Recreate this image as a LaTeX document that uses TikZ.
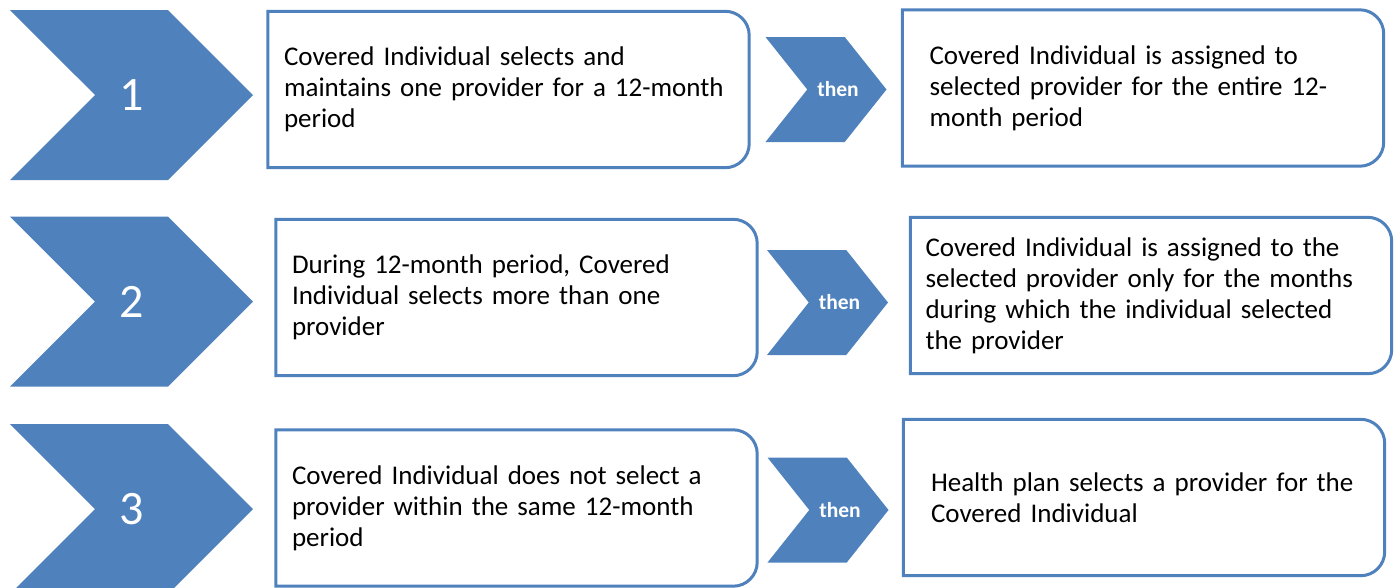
\documentclass[tikz,border=0pt]{standalone}
\usepackage{fontspec}
\setmainfont{Carlito}
\usetikzlibrary{shapes.symbols}
\definecolor{stepblue}{HTML}{4F81BD}

\begin{document}
\begin{tikzpicture}[x=1pt, y=-1pt,
  numchev/.style={signal, signal from=west, signal to=east, fill=stepblue,
    inner sep=0pt, minimum width=243pt, minimum height=170pt,
    signal pointer angle=90, text=white, font=\fontsize{48}{48}\selectfont},
  thenchev/.style={signal, signal from=west, signal to=east, fill=stepblue,
    inner sep=0pt, minimum width=121pt, minimum height=105pt,
    signal pointer angle=103,
    label={[text=white, font=\bfseries\fontsize{21.5}{21.5}\selectfont, xshift=12pt]center:then}},
  box/.style={fill=white, inner sep=0pt, minimum width=481pt, minimum height=156pt,
    align=left, text width=#1, font=\fontsize{27}{31}\selectfont},
  box/.default=449pt]
\useasboundingbox (0,0) rectangle (1395,587);

% step numbers
\node[numchev] (num1) at (131.5,95) {1};
\node[numchev] (num2) at (131.5,301.5) {2};
\node[numchev] (num3) at (131.5,509) {3};

% what the individual does
\node[box] (cond1) at (508.5,89.5) {Covered Individual selects and\\
                                    maintains one provider for a 12-month\\
                                    period};
\node[box] (cond2) at (516.5,297.5) {During 12-month period, Covered\\
                                     Individual selects more than one\\
                                     provider};
\node[box] (cond3) at (516.5,508) {Covered Individual does not select a\\
                                   provider within the same 12-month\\
                                   period};

\node[thenchev] (then1) at (826,89.5) {};
\node[thenchev] (then2) at (827.5,302.5) {};
\node[thenchev] (then3) at (828,510) {};

% what follows
\node[box=427pt] (res1) at (1143,88) {Covered Individual is assigned to\\
                                      selected provider for the entire 12-\\
                                      month period};
\node[box=451pt] (res2) at (1151,295.5) {Covered Individual is assigned to the\\
                                         selected provider only for the months\\
                                         during which the individual selected\\
                                         the provider};
\node[box=426pt] (res3) at (1144,497.5) {Health plan selects a provider for the\\
                                         Covered Individual};

% outlines, rounded on the right only
\foreach \b in {cond1,cond2,cond3,res1,res2,res3}
  \draw[stepblue, line width=3pt] (\b.north) [rounded corners=24pt] -- (\b.north east)
    -- (\b.south east) -- (\b.south) [sharp corners] -- (\b.south west) -- (\b.north west) -- cycle;
\end{tikzpicture}
\end{document}
